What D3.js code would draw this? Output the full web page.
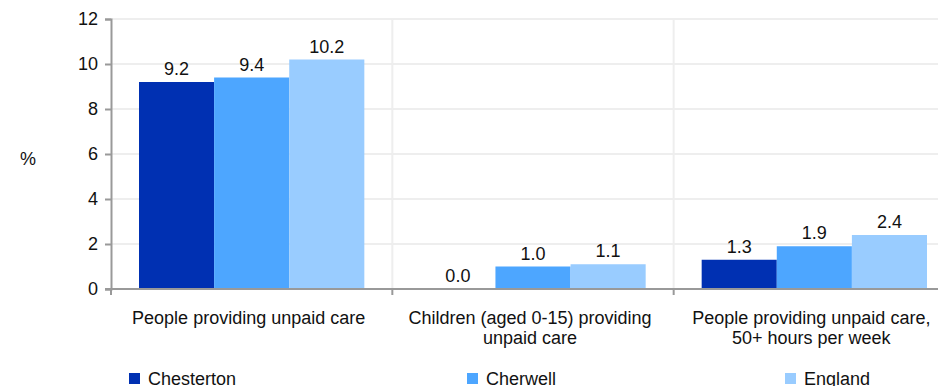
<!DOCTYPE html>
<html lang="en">
<head>
    <meta charset="utf-8">
    <title>Unpaid care</title>
    <script src="https://d3js.org/d3.v7.min.js"></script>
    <style>
        body { margin: 0; background: #fff; }
        svg text { font-family: "Liberation Sans", Arial, sans-serif; fill: #111; }
    </style>
</head>
<body>
<div id="chart"></div>
<script>
// chart values
var categories = [
  ["People providing unpaid care"],
  ["Children (aged 0-15) providing", "unpaid care"],
  ["People providing unpaid care,", "50+ hours per week"]
]
var seriesNames = ["Chesterton", "Cherwell", "England"]
var chesterton = [9.2, 0.0, 1.3]
var cherwell = [9.4, 1.0, 1.9]
var england = [10.2, 1.1, 2.4]
var yTicks = [0, 2, 4, 6, 8, 10, 12]
var colours = ["#0030b2", "#4da6ff", "#99ccff"]

var seriesValues = [chesterton, cherwell, england]

var width = 938, height = 386
var fs = "18px"

var svg = d3.select("#chart")
  .append("svg")
  .attr("width", width)
  .attr("height", height)

// the plot runs past the right edge in the original, so the range does too
var x0 = d3.scaleBand()
  .domain(d3.range(categories.length))
  .range([111, 955])

var x1 = d3.scaleBand()
  .domain(d3.range(seriesNames.length))
  .range([28, x0.bandwidth() - 28])

var y = d3.scaleLinear()
  .domain([0, 12])
  .range([289, 19])

// gridlines
svg.append("g")
  .selectAll("line")
  .data(yTicks.filter(d => d > 0))
  .join("line")
  .attr("x1", 111).attr("x2", width)
  .attr("y1", d => y(d)).attr("y2", d => y(d))
  .attr("stroke", "#eeeeee")
  .attr("stroke-width", 2)

svg.append("g")
  .selectAll("line")
  .data(d3.range(1, categories.length))
  .join("line")
  .attr("x1", d => x0(d)).attr("x2", d => x0(d))
  .attr("y1", y(12)).attr("y2", y(0))
  .attr("stroke", "#eeeeee")
  .attr("stroke-width", 2)

// bars
var groups = svg.append("g")
  .selectAll("g")
  .data(d3.range(categories.length))
  .join("g")
  .attr("transform", i => "translate(" + x0(i) + ",0)")

groups.selectAll("rect")
  .data(i => seriesValues.map((s, j) => ({ j: j, v: s[i] })))
  .join("rect")
  .attr("x", d => x1(d.j))
  .attr("width", x1.bandwidth())
  .attr("y", d => y(d.v))
  .attr("height", d => y(0) - y(d.v))
  .attr("fill", d => colours[d.j])

groups.selectAll("text.val")
  .data(i => seriesValues.map((s, j) => ({ j: j, v: s[i] })))
  .join("text")
  .attr("class", "val")
  .attr("x", d => x1(d.j) + x1.bandwidth() / 2)
  .attr("y", d => y(d.v) - 7)
  .attr("text-anchor", "middle")
  .style("font-size", fs)
  .text(d => d.v.toFixed(1))

// y axis
var yAxis = svg.append("g")
  .attr("transform", "translate(111,0)")
  .call(d3.axisLeft(y).tickValues(yTicks).tickSize(6).tickPadding(7))
yAxis.select(".domain").attr("stroke", "#999").attr("stroke-width", 2)
yAxis.selectAll(".tick line").attr("stroke", "#999").attr("stroke-width", 2)
yAxis.selectAll(".tick text").style("font-size", fs).attr("fill", "#111")
  .style("font-family", "'Liberation Sans', Arial, sans-serif")

// x axis
svg.append("line")
  .attr("x1", 105).attr("x2", width)
  .attr("y1", y(0)).attr("y2", y(0))
  .attr("stroke", "#999").attr("stroke-width", 2)

svg.append("g")
  .selectAll("line")
  .data(d3.range(categories.length + 1))
  .join("line")
  .attr("x1", d => 111 + d * x0.step()).attr("x2", d => 111 + d * x0.step())
  .attr("y1", y(0)).attr("y2", y(0) + 6)
  .attr("stroke", "#999").attr("stroke-width", 2)

svg.append("g")
  .selectAll("text")
  .data(categories)
  .join("text")
  .attr("x", (d, i) => x0(i) + x0.bandwidth() / 2 - 3)
  .attr("y", 324)
  .attr("text-anchor", "middle")
  .style("font-size", fs)
  .selectAll("tspan")
  .data(d => d)
  .join("tspan")
  .attr("x", function() { return this.parentNode.getAttribute("x") })
  .attr("dy", (d, k) => k === 0 ? 0 : 20)
  .text(d => d)

// y label
svg.append("text")
  .attr("x", 28).attr("y", 165)
  .attr("text-anchor", "middle")
  .style("font-size", fs)
  .text("%")

// legend
var legendX = [129, 467, 785]
var legend = svg.append("g")
  .selectAll("g")
  .data(seriesNames)
  .join("g")
  .attr("transform", (d, i) => "translate(" + legendX[i] + ",373)")

legend.append("rect")
  .attr("width", 11).attr("height", 11)
  .attr("fill", (d, i) => colours[i])

legend.append("text")
  .attr("x", 19).attr("y", 12)
  .style("font-size", fs)
  .text(d => d)
</script>
</body>
</html>
